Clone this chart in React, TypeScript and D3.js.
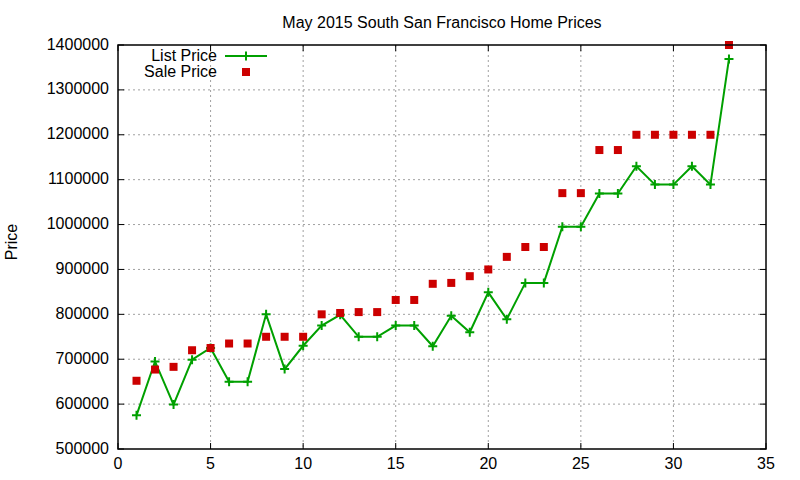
import React from 'react';
import * as d3 from 'd3';

// house index 1..33, prices
const houses = d3.range(1, 34);

const listPrices = [
  575000, 695000, 599000, 699000, 725000, 650000, 650000, 800000, 678000, 730000,
  775000, 799000, 750000, 750000, 775000, 775000, 729000, 797000, 760000, 849000,
  789000, 870000, 870000, 995000, 995000, 1069000, 1069000, 1130000, 1089000, 1089000,
  1130000, 1089000, 1369000
];

const salePrices = [
  652000, 677000, 683000, 720000, 725000, 735000, 735000, 750000, 750000, 750000,
  800000, 803000, 805000, 805000, 832000, 832000, 868000, 870000, 885000, 900000,
  928000, 950000, 950000, 1070000, 1070000, 1166000, 1166000, 1200000, 1200000, 1200000,
  1200000, 1200000, 1400000
];

const xTicks = [0, 5, 10, 15, 20, 25, 30, 35];
const yTicks = [500000, 600000, 700000, 800000, 900000, 1000000, 1100000, 1200000, 1300000, 1400000];

const size = { width: 800, height: 480 };
const plot = { left: 118, right: 766, top: 45, bottom: 449 };

const GREEN = '#00a000';
const RED = '#cc0000';
const FONT = 'Liberation Sans, Arial, sans-serif';

function Plus({ x, y, r = 4.5 }: { x: number; y: number; r?: number }) {
  return (
    <path
      d={`M${x - r},${y}H${x + r}M${x},${y - r}V${y + r}`}
      stroke={GREEN}
      strokeWidth={2}
    />
  );
}

function App() {
  const xScale = d3.scaleLinear().domain([0, 35]).range([plot.left, plot.right]);
  const yScale = d3.scaleLinear().domain([500000, 1400000]).range([plot.bottom, plot.top]);

  const line = d3
    .line<number>()
    .x((d, i) => xScale(houses[i]))
    .y(d => yScale(d));

  const tick = 6;
  const sq = 8;

  return (
    <svg
      width={size.width}
      height={size.height}
      style={{ position: 'absolute', left: 0, top: 0 }}
      fontFamily={FONT}
      fontSize={16}
      fill="#000"
    >
      <rect width={size.width} height={size.height} fill="#fff" />

      <text x={(plot.left + plot.right) / 2} y={27.5} textAnchor="middle">
        May 2015 South San Francisco Home Prices
      </text>

      {/* grid */}
      <g stroke="#a0a0a0" strokeWidth={1} strokeDasharray="2,3">
        {xTicks.slice(1, -1).map(t => (
          <line key={t} x1={xScale(t)} x2={xScale(t)} y1={plot.top} y2={plot.bottom} />
        ))}
        {yTicks.slice(1, -1).map(t => (
          <line key={t} x1={plot.left} x2={plot.right} y1={yScale(t)} y2={yScale(t)} />
        ))}
      </g>

      {/* ticks, mirrored on all sides */}
      <g stroke="#000" strokeWidth={1}>
        {xTicks.map(t => (
          <g key={t}>
            <line x1={xScale(t)} x2={xScale(t)} y1={plot.bottom} y2={plot.bottom - tick} />
            <line x1={xScale(t)} x2={xScale(t)} y1={plot.top} y2={plot.top + tick} />
          </g>
        ))}
        {yTicks.map(t => (
          <g key={t}>
            <line x1={plot.left} x2={plot.left + tick} y1={yScale(t)} y2={yScale(t)} />
            <line x1={plot.right} x2={plot.right - tick} y1={yScale(t)} y2={yScale(t)} />
          </g>
        ))}
      </g>

      <g textAnchor="middle">
        {xTicks.map(t => (
          <text key={t} x={xScale(t)} y={468.5}>
            {t}
          </text>
        ))}
      </g>
      <g textAnchor="end">
        {yTicks.map(t => (
          <text key={t} x={plot.left - 9} y={yScale(t) + 4.5}>
            {t}
          </text>
        ))}
      </g>

      <text transform="translate(17, 242) rotate(-90)" textAnchor="middle">
        Price
      </text>

      <path d={line(listPrices)!} fill="none" stroke={GREEN} strokeWidth={2} />
      {listPrices.map((v, i) => (
        <Plus key={i} x={xScale(houses[i])} y={yScale(v)} />
      ))}
      {salePrices.map((v, i) => (
        <rect
          key={i}
          x={xScale(houses[i]) - sq / 2}
          y={yScale(v) - sq / 2}
          width={sq}
          height={sq}
          fill={RED}
        />
      ))}

      {/* legend */}
      <text x={217} y={61} textAnchor="end">List Price</text>
      <line x1={225} x2={267} y1={56} y2={56} stroke={GREEN} strokeWidth={2} />
      <Plus x={246} y={56} />
      <text x={217} y={76.5} textAnchor="end">Sale Price</text>
      <rect x={246 - sq / 2} y={72 - sq / 2} width={sq} height={sq} fill={RED} />

      <rect
        x={plot.left}
        y={plot.top}
        width={plot.right - plot.left}
        height={plot.bottom - plot.top}
        fill="none"
        stroke="#000"
        strokeWidth={1.5}
      />
    </svg>
  );
}

export default App;
